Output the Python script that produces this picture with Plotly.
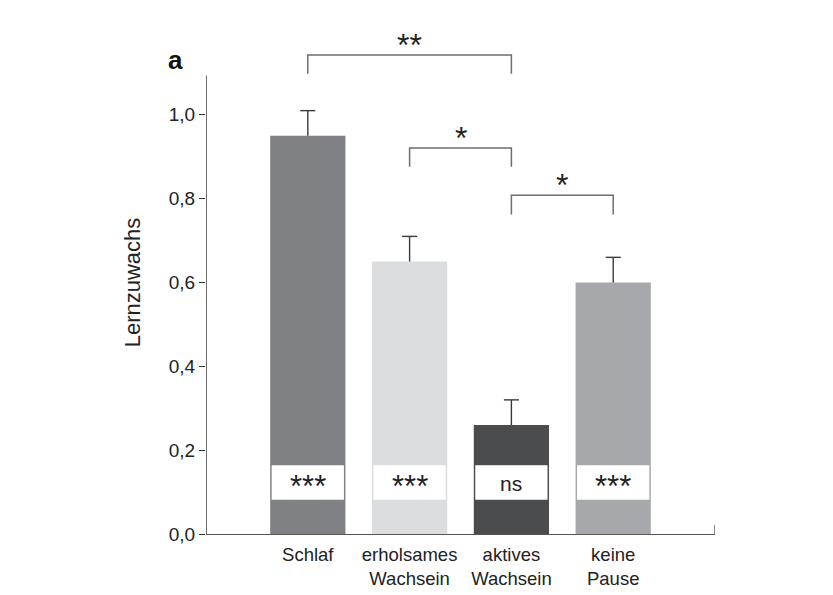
import plotly.graph_objects as go

categories = ["Schlaf", "erholsames<br>Wachsein", "aktives<br>Wachsein", "keine<br>Pause"]
values = [0.95, 0.65, 0.26, 0.60]
errors = [0.06, 0.06, 0.06, 0.06]
colors = ["#808184", "#dcdddf", "#4b4c4e", "#a7a8ab"]
box_labels = ["***", "***", "ns", "***"]
y_ticks = [0.0, 0.2, 0.4, 0.6, 0.8, 1.0]
# brackets: (left index, right index, top y, drop y, label)
brackets = [(0, 2, 1.143, 1.098, "**"), (1, 2, 0.921, 0.876, "*"), (2, 3, 0.808, 0.762, "*")]

FONT = "Liberation Sans, Arial, sans-serif"
xs = list(range(len(categories)))

# page geometry (page is offset by 8px body margin)
OFF = 8
PL, PR, PT, PB = 206, 715, 30.5, 534.5
W, H = 833, 595

fig = go.Figure()
fig.add_trace(go.Bar(
    x=xs, y=values, width=0.739,
    marker=dict(color=colors, line=dict(width=0)),
    showlegend=False, hoverinfo="skip",
))

# error bars (upper only, cap at top)
cap = 0.074
ex, ey = [], []
for x, v, e in zip(xs, values, errors):
    ex += [x, x, None, x - cap, x + cap, None]
    ey += [v, v + e, None, v + e, v + e, None]
fig.add_trace(go.Scatter(x=ex, y=ey, mode="lines", line=dict(color="#3a3a3a", width=1.4),
                         showlegend=False, hoverinfo="skip", cliponaxis=False))

shapes = []
annotations = []
# white label boxes
for i, lab in enumerate(box_labels):
    shapes.append(dict(type="rect", xref="x", yref="y", x0=i - 0.355, x1=i + 0.355, y0=0.082, y1=0.164,
                       fillcolor="white", line=dict(width=0), layer="above"))
    if lab == "ns":
        annotations.append(dict(x=i, y=0.123, xref="x", yref="y", text=lab, showarrow=False,
                                font=dict(family=FONT, size=21, color="#222222"), yshift=-1))
    else:
        annotations.append(dict(x=i, y=0.123, xref="x", yref="y", text=lab, showarrow=False,
                                font=dict(family=FONT, size=31, color="#222222"), yshift=-4))
# brackets
for a, b, top, drop, lab in brackets:
    shapes.append(dict(type="path", xref="x", yref="y",
                       path=f"M {a},{drop} L {a},{top} L {b},{top} L {b},{drop}",
                       line=dict(color="#6e6e6e", width=1.5)))
    annotations.append(dict(x=(a + b) / 2, y=top + 0.033, xref="x", yref="y", text=lab, showarrow=False,
                            yanchor="middle", yshift=-4,
                            font=dict(family=FONT, size=32, color="#222222")))
# y axis line
shapes.append(dict(type="line", xref="x", yref="y", x0=-1, x1=-1, y0=0, y1=1.094,
                   line=dict(color="#333333", width=1.4)))
# right-end tick of x axis
shapes.append(dict(type="line", xref="x", yref="y", x0=4, x1=4, y0=0, y1=0.022,
                   line=dict(color="#555555", width=1.3)))

annotations.append(dict(x=(166 - PL) / (PR - PL), y=(PB - 43) / (PB - PT), xref="paper", yref="paper",
                        text="<b>a</b>", showarrow=False,
                        font=dict(family=FONT, size=26, color="#111111")))

fig.update_layout(
    width=W, height=H,
    margin=dict(l=PL - OFF, r=W + OFF - PR, t=PT - OFF, b=H + OFF - PB),
    paper_bgcolor="white", plot_bgcolor="white",
    separators=",.",
    shapes=shapes, annotations=annotations,
    font=dict(family=FONT, color="#222222"),
)

fig.update_xaxes(range=[-1, 4], tickvals=xs, ticktext=categories, showline=True,
                 linecolor="#555555", linewidth=1.3, ticks="", showgrid=False, zeroline=False,
                 ticklabelstandoff=4,
                 tickfont=dict(family=FONT, size=18.5, color="#222222"), fixedrange=True)
fig.update_yaxes(range=[0, 1.2], tickvals=y_ticks, tickformat=".1f", ticks="outside", ticklen=6,
                 tickcolor="#333333", tickwidth=1.3, showline=False, showgrid=False, zeroline=False,
                 tickfont=dict(family=FONT, size=19, color="#222222"),
                 title=dict(text="Lernzuwachs", font=dict(family=FONT, size=22, color="#222222"), standoff=22))

fig.write_html("out.html")
